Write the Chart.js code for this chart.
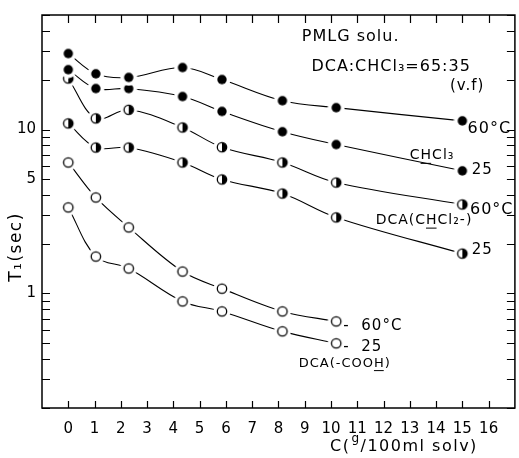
<!DOCTYPE html>
<html>
<head>
<meta charset="utf-8">
<script src="https://cdn.jsdelivr.net/npm/chart.js@4.4.0/dist/chart.umd.min.js"></script>
<style>
  html, body { margin: 0; padding: 0; background: #fff; overflow: hidden; }
</style>
</head>
<body>
<!-- canvas um pouco mais largo: o chart.js deixa 5px na direita e o eixo precisa encostar na borda -->
<canvas id="grafico" width="522" height="458"></canvas>
<script>

// concentracoes C (g/100ml solv)
var concentracoes = [0, 1.05, 2.3, 4.35, 5.85, 8.15, 10.2, 15];

// T1 (sec)
var chcl3_60 = [29.1, 21.9, 20.8, 23.9, 20.2, 15.0, 13.6, 11.3];
var chcl3_25 = [23.2, 17.8, 17.8, 15.9, 12.9, 9.7, 8.1, 5.6];
var dca_60 = [20.5, 11.7, 13.2, 10.3, 7.8, 6.3, 4.75, 3.49];
var dca_25 = [10.9, 7.77, 7.77, 6.3, 4.96, 4.07, 2.91, 1.75];
var cooh_60 = [6.3, 3.85, 2.53, 1.36, 1.07, 0.777, 0.675];
var cooh_25 = [3.35, 1.68, 1.42, 0.894, 0.777, 0.587, 0.496];

// ticks
var ticksX = [0, 1, 2, 3, 4, 5, 6, 7, 8, 9, 10, 11, 12, 13, 14, 15, 16];
var ticksY = [0.2, 0.3, 0.4, 0.5, 0.6, 0.7, 0.8, 0.9, 1, 2, 3, 4, 5, 6, 7, 8, 9, 10, 20, 30, 40, 50];
var rotulosY = [1, 5, 10];

// textos dentro do grafico (posicao em unidades dos eixos)
var anotacoes = [
  { texto: 'PMLG solu.', x: 8.89, y: 37, tam: 16 },
  { texto: 'DCA:CHCl₃=65:35', x: 9.26, y: 24, tam: 16 },
  { texto: '(v.f)', x: 14.53, y: 18.4, tam: 15 },
  { texto: '60°C', x: 15.2, y: 10.1, tam: 16 },
  { texto: 'CHCl₃', x: 13.0, y: 6.93, tam: 14, sublinhar: 1 },
  { texto: '25', x: 15.36, y: 5.62, tam: 15 },
  { texto: '60°C', x: 15.29, y: 3.25, tam: 16 },
  { texto: 'DCA(CHCl₂-)', x: 11.7, y: 2.79, tam: 14, sublinhar: 5 },
  { texto: '25', x: 15.36, y: 1.83, tam: 15 },
  { texto: '-  60°C', x: 10.47, y: 0.63, tam: 15 },
  { texto: '-  25', x: 10.47, y: 0.469, tam: 15 },
  { texto: 'DCA(-COOH)', x: 8.77, y: 0.374, tam: 13, sublinhar: 8 }
];

var fonte = '"DejaVu Sans", sans-serif';

function pontos(valores) {
  var lista = [];
  for (var i = 0; i < valores.length; i++) {
    lista.push({ x: concentracoes[i], y: valores[i] });
  }
  return lista;
}

// marcador com um halo branco pra deixar o espaco entre linha e ponto
function marcador(tipo) {
  var c = document.createElement('canvas');
  c.width = 18; c.height = 18;
  var ctx = c.getContext('2d');
  var r = 4.7;
  ctx.fillStyle = '#fff';
  ctx.beginPath(); ctx.arc(9, 9, 8.5, 0, Math.PI * 2); ctx.fill();
  ctx.lineWidth = 1.3;
  ctx.strokeStyle = '#000';
  if (tipo == 'cheio') {
    ctx.fillStyle = '#000';
    ctx.beginPath(); ctx.arc(9, 9, r, 0, Math.PI * 2); ctx.fill();
  } else if (tipo == 'meio') {
    ctx.fillStyle = '#000';
    ctx.beginPath(); ctx.arc(9, 9, r, -Math.PI / 2, Math.PI / 2); ctx.closePath(); ctx.fill();
    ctx.beginPath(); ctx.arc(9, 9, r, 0, Math.PI * 2); ctx.stroke();
  } else {
    ctx.beginPath(); ctx.arc(9, 9, r, 0, Math.PI * 2); ctx.stroke();
  }
  return c;
}

function serie(nome, valores, tipo) {
  return {
    label: nome,
    data: pontos(valores),
    borderColor: '#000',
    borderWidth: 1.1,
    tension: 0.35,
    pointStyle: marcador(tipo),
    pointRadius: 6,
    fill: false
  };
}

var dados = {
  datasets: [
    serie('CHCl3 60°C', chcl3_60, 'cheio'),
    serie('CHCl3 25', chcl3_25, 'cheio'),
    serie('DCA(CHCl2-) 60°C', dca_60, 'meio'),
    serie('DCA(CHCl2-) 25', dca_25, 'meio'),
    serie('DCA(-COOH) 60°C', cooh_60, 'vazio'),
    serie('DCA(-COOH) 25', cooh_25, 'vazio')
  ]
};

function escreverTexto(ctx, a, px, py) {
  ctx.font = a.tam + 'px ' + fonte;
  ctx.letterSpacing = '1px';
  ctx.textAlign = 'left';
  ctx.textBaseline = 'middle';
  ctx.fillStyle = '#000';
  ctx.fillText(a.texto, px, py);
  if (a.sublinhar != undefined) {
    var antes = ctx.measureText(a.texto.substring(0, a.sublinhar)).width;
    var letra = ctx.measureText(a.texto.charAt(a.sublinhar)).width - 1;
    ctx.lineWidth = 1;
    ctx.beginPath();
    ctx.moveTo(px + antes, py + a.tam * 0.55);
    ctx.lineTo(px + antes + letra, py + a.tam * 0.55);
    ctx.stroke();
  }
  ctx.letterSpacing = '0px';
}

var moldura = {
  id: 'moldura',
  afterDatasetsDraw: function (chart) {
    var ctx = chart.ctx;
    var area = chart.chartArea;
    var escX = chart.scales.x;
    var escY = chart.scales.y;
    ctx.save();
    ctx.strokeStyle = '#000';
    ctx.lineWidth = 1.5;
    ctx.strokeRect(area.left, area.top, area.right - area.left, area.bottom - area.top);

    // marcas pra dentro nos quatro lados
    ctx.lineWidth = 1.2;
    ctx.beginPath();
    for (var i = 0; i < ticksX.length; i++) {
      var px = Math.round(escX.getPixelForValue(ticksX[i])) + 0.5;
      ctx.moveTo(px, area.bottom); ctx.lineTo(px, area.bottom - 7);
      ctx.moveTo(px, area.top); ctx.lineTo(px, area.top + 8);
    }
    for (var j = 0; j < ticksY.length; j++) {
      var py = Math.round(escY.getPixelForValue(ticksY[j])) + 0.5;
      ctx.moveTo(area.left, py); ctx.lineTo(area.left + 8, py);
      ctx.moveTo(area.right, py); ctx.lineTo(area.right - 8, py);
    }
    ctx.stroke();

    // anotacoes
    for (var k = 0; k < anotacoes.length; k++) {
      var a = anotacoes[k];
      escreverTexto(ctx, a, escX.getPixelForValue(a.x), escY.getPixelForValue(a.y));
    }

    // titulo eixo y
    ctx.save();
    ctx.translate(17, 247);
    ctx.rotate(-Math.PI / 2);
    ctx.font = '17px ' + fonte;
    ctx.letterSpacing = '1.5px';
    ctx.textAlign = 'center';
    ctx.textBaseline = 'middle';
    ctx.fillText('T₁(sec)', 0, 0);
    ctx.restore();

    // titulo eixo x
    ctx.letterSpacing = '1.5px';
    ctx.textAlign = 'left';
    ctx.textBaseline = 'alphabetic';
    ctx.font = '16px ' + fonte;
    var xt = 330;
    ctx.fillText('C(', xt, 451);
    xt += ctx.measureText('C(').width + 1;
    ctx.font = '12px ' + fonte;
    ctx.fillText('g', xt, 442);
    xt += ctx.measureText('g').width;
    ctx.font = '16px ' + fonte;
    ctx.fillText('/100ml solv)', xt, 451);
    ctx.restore();
  }
};

var config = {
  type: 'line',
  data: dados,
  options: {
    responsive: false,
    animation: false,
    devicePixelRatio: 1,
    layout: { padding: { left: 0, right: 0, top: 15, bottom: 0 } },
    plugins: { legend: { display: false }, tooltip: { enabled: false } },
    scales: {
      x: {
        type: 'linear',
        min: -1,
        max: 17,
        grid: { display: false, drawTicks: false },
        border: { display: false },
        afterBuildTicks: function (escala) {
          escala.ticks = ticksX.map(function (v) { return { value: v }; });
        },
        afterFit: function (escala) {
          escala.height = 50;
          escala.paddingLeft = 0;
          escala.paddingRight = 0;
        },
        ticks: {
          autoSkip: false,
          maxRotation: 0,
          padding: 12,
          color: '#000',
          font: { family: fonte, size: 15 },
          callback: function (v) { return String(v); }
        }
      },
      y: {
        type: 'logarithmic',
        min: 0.2,
        max: 50,
        grid: { display: false, drawTicks: false },
        border: { display: false },
        afterBuildTicks: function (escala) {
          escala.ticks = ticksY.map(function (v) { return { value: v }; });
        },
        afterFit: function (escala) {
          escala.width = 42;
          escala.paddingTop = 0;
          escala.paddingBottom = 0;
        },
        ticks: {
          autoSkip: false,
          padding: 6,
          color: '#000',
          font: { family: fonte, size: 15 },
          callback: function (v) {
            return rotulosY.indexOf(v) >= 0 ? String(v) : '';
          }
        }
      }
    }
  },
  plugins: [moldura]
};

var meuGrafico = new Chart(document.getElementById('grafico'), config);
</script>
</body>
</html>
